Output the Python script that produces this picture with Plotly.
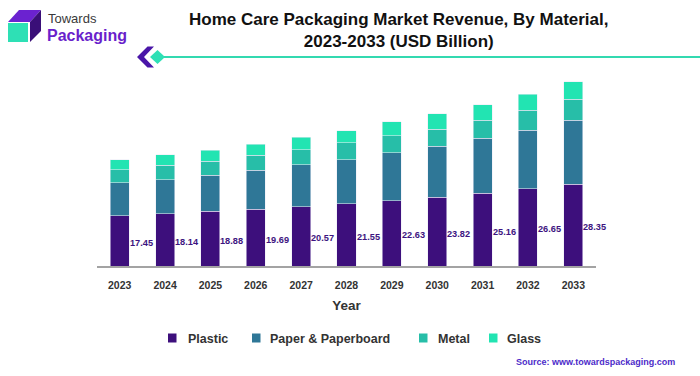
import plotly.graph_objects as go

years = ["2023", "2024", "2025", "2026", "2027", "2028", "2029", "2030", "2031", "2032", "2033"]
plastic = [17.45, 18.14, 18.88, 19.69, 20.57, 21.55, 22.63, 23.82, 25.16, 26.65, 28.35]
paper = [11.3, 11.7, 12.6, 13.5, 14.4, 15.2, 16.6, 17.6, 19.0, 20.3, 22.0]
metal = [4.6, 4.95, 4.85, 5.2, 5.3, 5.9, 5.9, 5.9, 6.3, 7.0, 7.4]
glass = [3.35, 3.7, 3.8, 3.8, 4.3, 4.15, 4.7, 5.3, 5.3, 5.4, 6.0]
series_names = ["Plastic", "Paper & Paperboard", "Metal", "Glass"]
colors = ["#3d0f7c", "#2f7797", "#27bea8", "#22e4b2"]

title_text = "Home Care Packaging Market Revenue, By Material,<br>2023-2033 (USD Billion)"
source_text = "Source: www.towardspackaging.com"

W_, H_ = 700, 376
L, R, T, B = 97, 104, 75, 110
PW = W_ - L - R
PH = H_ - T - B


def xp(px):
    return (px - L) / PW


def yp(py):
    return (H_ - B - py) / PH


fig = go.Figure()
for name, vals, col in zip(series_names, [plastic, paper, metal, glass], colors):
    fig.add_trace(go.Bar(
        x=years, y=vals, name=name, marker=dict(color=col, line=dict(width=0.6, color="rgba(235,235,245,0.9)")),
        showlegend=False, hoverinfo="skip"))

annotations = []
for i, v in enumerate(plastic):
    annotations.append(dict(
        x=i, y=v / 2, xref="x", yref="y", text=f"{v:.2f}", showarrow=False,
        xanchor="left", yanchor="middle", xshift=8, yshift=-2,
        font=dict(family="Liberation Sans Narrow, Arial Narrow, Arial", size=9.2, color="#3d1480", weight="bold")))

# title
annotations.append(dict(
    x=xp(399), y=yp(31), xref="paper", yref="paper", text=title_text, showarrow=False,
    xanchor="center", yanchor="middle",
    font=dict(family="Liberation Sans, Arial", size=17, color="#111111", weight="bold")))

# logo text
annotations.append(dict(
    x=xp(46), y=yp(19), xref="paper", yref="paper", text="Towards", showarrow=False,
    xanchor="left", yanchor="middle",
    font=dict(family="Liberation Sans, Arial", size=13, color="#3a3a3a")))
annotations.append(dict(
    x=xp(45), y=yp(35), xref="paper", yref="paper", text="Packaging", showarrow=False,
    xanchor="left", yanchor="middle",
    font=dict(family="Liberation Sans, Arial", size=16, color="#6a1fcb", weight="bold")))

# source
annotations.append(dict(
    x=xp(677), y=yp(362), xref="paper", yref="paper", text=source_text, showarrow=False,
    xanchor="right", yanchor="middle",
    font=dict(family="Liberation Sans, Arial", size=9, color="#4c2bc9", weight="bold")))

# legend (manual)
shapes = []
legend_sq = [168, 252, 419, 489]
legend_tx = [186, 268, 436, 505]
for name, col, sx, tx in zip(series_names, colors, legend_sq, legend_tx):
    shapes.append(dict(type="rect", xref="paper", yref="paper",
                       x0=xp(sx), x1=xp(sx + 8.5), y0=yp(342.5), y1=yp(333.5),
                       fillcolor=col, line=dict(width=0)))
    annotations.append(dict(
        x=xp(tx), y=yp(338.5), xref="paper", yref="paper", text=name, showarrow=False,
        xanchor="left", yanchor="middle",
        font=dict(family="Liberation Sans, Arial", size=12.5, color="#333333", weight="bold")))


def path(pts):
    return "M " + " L ".join(f"{xp(a)},{yp(b)}" for a, b in pts) + " Z"


# logo cube
shapes.append(dict(type="path", xref="paper", yref="paper",
                   path=path([(8, 22), (19, 10), (41, 10), (30, 22)]),
                   fillcolor="#6b22d0", line=dict(width=0)))
shapes.append(dict(type="path", xref="paper", yref="paper",
                   path=path([(30, 22), (41, 10), (41, 31), (30, 42)]),
                   fillcolor="#3a0f78", line=dict(width=0)))
shapes.append(dict(type="path", xref="paper", yref="paper",
                   path=path([(8, 23), (28, 23), (28, 42), (8, 42)]),
                   fillcolor="#2ee0b5", line=dict(width=0)))

# divider decoration
shapes.append(dict(type="line", xref="paper", yref="paper",
                   x0=xp(160), x1=xp(700), y0=yp(57), y1=yp(57),
                   line=dict(color="#33d9b0", width=2)))
shapes.append(dict(type="path", xref="paper", yref="paper",
                   path=path([(137, 57), (147.5, 46.5), (154, 46.5), (144, 57), (154, 67.5), (147.5, 67.5)]),
                   fillcolor="#4a16a8", line=dict(width=0)))
shapes.append(dict(type="path", xref="paper", yref="paper",
                   path=path([(150, 57), (157.5, 50), (165, 57), (157.5, 64)]),
                   fillcolor="#2ee0b5", line=dict(width=0)))

fig.update_layout(
    barmode="stack", bargap=0.58,
    width=W_, height=H_,
    margin=dict(l=L, r=R, t=T, b=B),
    paper_bgcolor="white", plot_bgcolor="white",
    annotations=annotations, shapes=shapes,
    xaxis=dict(type="category", showline=True, linecolor="#a3a3a3", linewidth=2,
               ticks="", showgrid=False, range=[-0.5, len(years) - 0.5],
               ticklabelstandoff=8,
               tickfont=dict(family="Liberation Sans, Arial", size=10.5, color="#333333", weight="bold"),
               title=dict(text="Year", standoff=11,
                          font=dict(family="Liberation Sans, Arial", size=13.5, color="#333333", weight="bold"))),
    yaxis=dict(visible=False, range=[0, (H_ - B - T) / 2.89], showgrid=False),
)

fig.write_html("out.html", config={"displayModeBar": False},
               post_script="document.body.style.margin='0';document.body.style.overflow='hidden';")
